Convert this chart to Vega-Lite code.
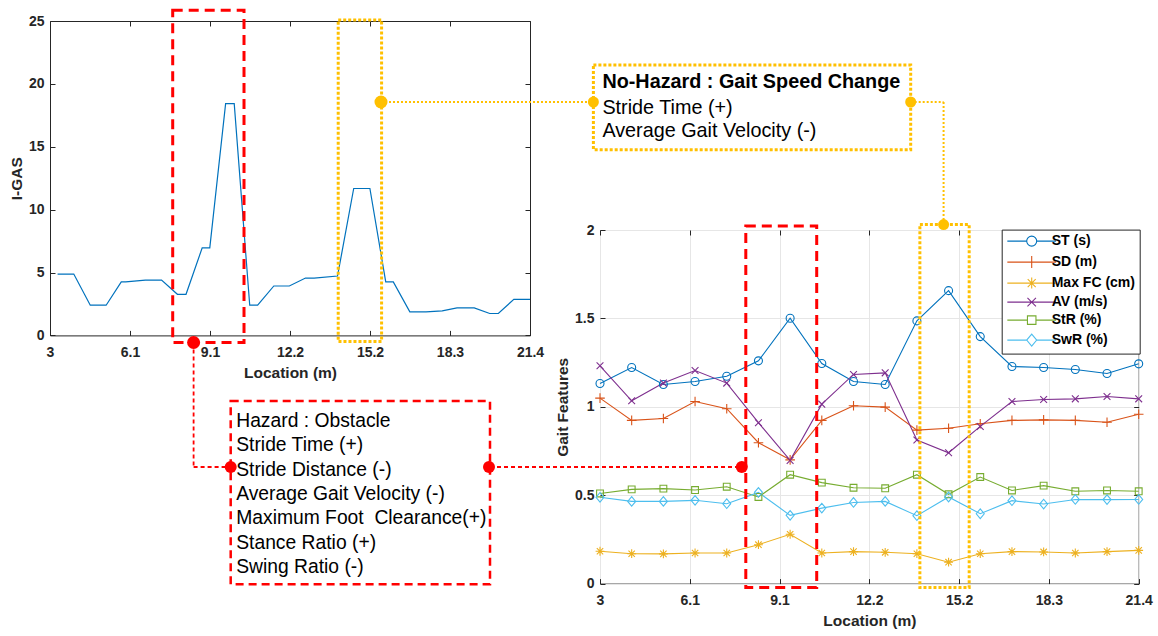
{
  "$schema": "https://vega.github.io/schema/vega-lite/v6.json",
  "padding": 0,
  "background": "white",
  "autosize": {"type": "pad"},
  "datasets": {
    "igas": [
      {"loc": 3.29, "igas": 4.88}, {"loc": 3.911, "igas": 4.88}, {"loc": 4.544, "igas": 2.4}, {"loc": 5.152, "igas": 2.4},
      {"loc": 5.732, "igas": 4.25}, {"loc": 5.9, "igas": 4.25}, {"loc": 6.656, "igas": 4.4}, {"loc": 7.276, "igas": 4.4},
      {"loc": 7.884, "igas": 3.27}, {"loc": 8.214, "igas": 3.27}, {"loc": 8.834, "igas": 6.96}, {"loc": 9.125, "igas": 6.96},
      {"loc": 9.732, "igas": 18.43}, {"loc": 10.062, "igas": 18.43}, {"loc": 10.656, "igas": 2.4}, {"loc": 10.96, "igas": 2.4},
      {"loc": 11.58, "igas": 3.93}, {"loc": 12.174, "igas": 3.93}, {"loc": 12.794, "igas": 4.56}, {"loc": 13.124, "igas": 4.56},
      {"loc": 14.022, "igas": 4.72}, {"loc": 14.642, "igas": 11.68}, {"loc": 15.263, "igas": 11.68}, {"loc": 15.87, "igas": 4.25},
      {"loc": 16.16, "igas": 4.25}, {"loc": 16.794, "igas": 1.87}, {"loc": 17.414, "igas": 1.87}, {"loc": 18.035, "igas": 1.95},
      {"loc": 18.602, "igas": 2.19}, {"loc": 19.262, "igas": 2.19}, {"loc": 19.856, "igas": 1.74}, {"loc": 20.186, "igas": 1.74},
      {"loc": 20.78, "igas": 2.87}, {"loc": 21.4, "igas": 2.87}
    ],
    "gait": [
      {"loc": 3, "ST (s)": 1.132, "SD (m)": 1.049, "Max FC (cm)": 0.183, "AV (m/s)": 1.232, "StR (%)": 0.51, "SwR (%)": 0.488},
      {"loc": 4.082, "ST (s)": 1.222, "SD (m)": 0.923, "Max FC (cm)": 0.169, "AV (m/s)": 1.034, "StR (%)": 0.533, "SwR (%)": 0.465},
      {"loc": 5.165, "ST (s)": 1.126, "SD (m)": 0.934, "Max FC (cm)": 0.168, "AV (m/s)": 1.134, "StR (%)": 0.537, "SwR (%)": 0.465},
      {"loc": 6.247, "ST (s)": 1.143, "SD (m)": 1.03, "Max FC (cm)": 0.173, "AV (m/s)": 1.205, "StR (%)": 0.529, "SwR (%)": 0.471},
      {"loc": 7.329, "ST (s)": 1.173, "SD (m)": 0.989, "Max FC (cm)": 0.173, "AV (m/s)": 1.134, "StR (%)": 0.548, "SwR (%)": 0.452},
      {"loc": 8.412, "ST (s)": 1.26, "SD (m)": 0.797, "Max FC (cm)": 0.22, "AV (m/s)": 0.91, "StR (%)": 0.49, "SwR (%)": 0.516},
      {"loc": 9.494, "ST (s)": 1.501, "SD (m)": 0.7, "Max FC (cm)": 0.279, "AV (m/s)": 0.697, "StR (%)": 0.616, "SwR (%)": 0.386},
      {"loc": 10.576, "ST (s)": 1.245, "SD (m)": 0.923, "Max FC (cm)": 0.173, "AV (m/s)": 1.015, "StR (%)": 0.571, "SwR (%)": 0.427},
      {"loc": 11.659, "ST (s)": 1.143, "SD (m)": 1.006, "Max FC (cm)": 0.181, "AV (m/s)": 1.183, "StR (%)": 0.542, "SwR (%)": 0.459},
      {"loc": 12.741, "ST (s)": 1.126, "SD (m)": 0.998, "Max FC (cm)": 0.177, "AV (m/s)": 1.192, "StR (%)": 0.539, "SwR (%)": 0.465},
      {"loc": 13.824, "ST (s)": 1.486, "SD (m)": 0.868, "Max FC (cm)": 0.169, "AV (m/s)": 0.812, "StR (%)": 0.616, "SwR (%)": 0.384},
      {"loc": 14.906, "ST (s)": 1.657, "SD (m)": 0.879, "Max FC (cm)": 0.121, "AV (m/s)": 0.74, "StR (%)": 0.505, "SwR (%)": 0.49},
      {"loc": 15.988, "ST (s)": 1.397, "SD (m)": 0.904, "Max FC (cm)": 0.169, "AV (m/s)": 0.889, "StR (%)": 0.603, "SwR (%)": 0.395},
      {"loc": 17.071, "ST (s)": 1.228, "SD (m)": 0.923, "Max FC (cm)": 0.181, "AV (m/s)": 1.03, "StR (%)": 0.527, "SwR (%)": 0.469},
      {"loc": 18.153, "ST (s)": 1.222, "SD (m)": 0.926, "Max FC (cm)": 0.179, "AV (m/s)": 1.041, "StR (%)": 0.554, "SwR (%)": 0.45},
      {"loc": 19.235, "ST (s)": 1.211, "SD (m)": 0.923, "Max FC (cm)": 0.173, "AV (m/s)": 1.045, "StR (%)": 0.522, "SwR (%)": 0.476},
      {"loc": 20.318, "ST (s)": 1.188, "SD (m)": 0.913, "Max FC (cm)": 0.181, "AV (m/s)": 1.058, "StR (%)": 0.527, "SwR (%)": 0.475},
      {"loc": 21.4, "ST (s)": 1.243, "SD (m)": 0.958, "Max FC (cm)": 0.188, "AV (m/s)": 1.045, "StR (%)": 0.522, "SwR (%)": 0.476}
    ]
  },
  "config": {
    "font": "Liberation Sans",
    "view": {"stroke": "#262626", "strokeWidth": 1},
    "axis": {
      "labelFont": "Liberation Sans", "labelFontSize": 14, "labelFontWeight": "bold", "labelColor": "#262626",
      "titleFont": "Liberation Sans", "titleFontSize": 15.5, "titleFontWeight": "bold", "titleColor": "#262626",
      "domain": false, "tickColor": "#262626", "tickSize": -5, "tickWidth": 1,
      "gridColor": "#e6e6e6", "gridWidth": 1, "labelFlush": false, "labelOverlap": false
    },
    "axisX": {"labelPadding": 15, "titlePadding": 6},
    "axisY": {"labelPadding": 11, "titlePadding": 4}
  },
  "spacing": 70,
  "bounds": "flush",
  "hconcat": [
    {
      "width": 480,
      "height": 314.4,
      "layer": [
        {
          "data": {"values": [{}]},
          "mark": {"type": "rect", "fill": "white", "fillOpacity": 0, "strokeOpacity": 0, "clip": false},
          "encoding": {
            "x": {"datum": 1.1102, "type": "quantitative", "scale": {"domain": [3, 21.4], "nice": false, "zero": false},
                  "axis": {"orient": "top", "labels": false, "grid": false, "title": null, "values": [3, 6.06667, 9.13333, 12.2, 15.26667, 18.33333, 21.4]}},
            "x2": {"datum": 45.5},
            "y": {"datum": 26.591, "type": "quantitative", "scale": {"domain": [0, 25], "nice": false, "zero": false},
                  "axis": {"orient": "right", "labels": false, "grid": false, "title": null, "values": [0, 5, 10, 15, 20, 25]}},
            "y2": {"datum": -23.982}
          }
        },
        {
          "data": {"name": "igas"},
          "mark": {"type": "line", "color": "#0072BD", "strokeWidth": 1.2},
          "encoding": {
            "x": {"field": "loc", "type": "quantitative", "scale": {"domain": [3, 21.4], "nice": false, "zero": false},
                  "axis": {"orient": "bottom", "title": "Location (m)", "values": [3, 6.06667, 9.13333, 12.2, 15.26667, 18.33333, 21.4],
                           "labelExpr": "['3','6.1','9.1','12.2','15.2','18.3','21.4'][round((datum.value-3)/3.06667)]"}},
            "y": {"field": "igas", "type": "quantitative", "scale": {"domain": [0, 25], "nice": false, "zero": false},
                  "axis": {"orient": "left", "title": "I-GAS", "values": [0, 5, 10, 15, 20, 25]}}
          }
        },
        {
          "data": {"values": [{}]},
          "mark": {"type": "rect", "fill": "transparent", "stroke": "#FF0000", "strokeWidth": 3, "strokeDash": [10, 6], "clip": false},
          "encoding": {
            "x": {"datum": 7.7035, "type": "quantitative", "axis": null}, "x2": {"datum": 10.437},
            "y": {"datum": 25.851, "type": "quantitative", "axis": null}, "y2": {"datum": -0.5646}
          }
        },
        {
          "data": {"values": [{}]},
          "mark": {"type": "rect", "fill": "transparent", "stroke": "#FFC000", "strokeWidth": 3, "strokeDash": [3, 2], "clip": false},
          "encoding": {
            "x": {"datum": 14.048, "type": "quantitative", "axis": null}, "x2": {"datum": 15.711},
            "y": {"datum": 25.08, "type": "quantitative", "axis": null}, "y2": {"datum": -0.485}
          }
        },
        {
          "data": {"values": [{}]},
          "mark": {"type": "rule", "color": "#FF0000", "strokeWidth": 1.8, "strokeDash": [4, 3], "clip": false},
          "encoding": {
            "x": {"datum": 8.5047, "type": "quantitative", "axis": null},
            "y": {"datum": -0.5646, "type": "quantitative", "axis": null}, "y2": {"datum": -10.464}
          }
        },
        {
          "data": {"values": [{}]},
          "mark": {"type": "rule", "color": "#FF0000", "strokeWidth": 1.8, "strokeDash": [4, 3], "clip": false},
          "encoding": {
            "x": {"datum": 8.5047, "type": "quantitative", "axis": null}, "x2": {"datum": 9.9268},
            "y": {"datum": -10.464, "type": "quantitative", "axis": null}
          }
        },
        {
          "data": {"values": [{}]},
          "mark": {"type": "rule", "color": "#FF0000", "strokeWidth": 1.8, "strokeDash": [4, 3], "clip": false},
          "encoding": {
            "x": {"datum": 19.8667, "type": "quantitative", "axis": null}, "x2": {"datum": 29.519},
            "y": {"datum": -10.464, "type": "quantitative", "axis": null}
          }
        },
        {
          "data": {"values": [{}]},
          "mark": {"type": "rect", "fill": "transparent", "stroke": "#FF0000", "strokeWidth": 2.5, "strokeDash": [8, 5], "clip": false},
          "encoding": {
            "x": {"datum": 9.9268, "type": "quantitative", "axis": null}, "x2": {"datum": 19.8667},
            "y": {"datum": -5.216, "type": "quantitative", "axis": null}, "y2": {"datum": -19.792}
          }
        },
        {
          "data": {"values": [{}]},
          "mark": {"type": "rule", "color": "#FFC000", "strokeWidth": 2, "strokeDash": [2, 2], "clip": false},
          "encoding": {
            "x": {"datum": 15.688, "type": "quantitative", "axis": null}, "x2": {"datum": 23.83},
            "y": {"datum": 18.559, "type": "quantitative", "axis": null}
          }
        },
        {
          "data": {"values": [{}]},
          "mark": {"type": "rule", "color": "#FFC000", "strokeWidth": 2, "strokeDash": [2, 2], "clip": false},
          "encoding": {
            "x": {"datum": 35.993, "type": "quantitative", "axis": null}, "x2": {"datum": 37.254},
            "y": {"datum": 18.559, "type": "quantitative", "axis": null}
          }
        },
        {
          "data": {"values": [{}]},
          "mark": {"type": "rule", "color": "#FFC000", "strokeWidth": 2, "strokeDash": [2, 2], "clip": false},
          "encoding": {
            "x": {"datum": 37.254, "type": "quantitative", "axis": null},
            "y": {"datum": 18.559, "type": "quantitative", "axis": null}, "y2": {"datum": 8.834}
          }
        },
        {
          "data": {"values": [{}]},
          "mark": {"type": "rect", "fill": "transparent", "stroke": "#FFC000", "strokeWidth": 3, "strokeDash": [3, 2], "clip": false},
          "encoding": {
            "x": {"datum": 23.83, "type": "quantitative", "axis": null}, "x2": {"datum": 35.993},
            "y": {"datum": 21.501, "type": "quantitative", "axis": null}, "y2": {"datum": 14.766}
          }
        },
        {
          "data": {"values": [{}]},
          "mark": {"type": "text", "align": "left", "baseline": "alphabetic", "font": "Liberation Sans", "fontSize": 19.3, "lineHeight": 24.3, "color": "black", "clip": false},
          "encoding": {
            "x": {"datum": 10.138, "type": "quantitative", "axis": null},
            "y": {"datum": -7.284, "type": "quantitative", "axis": null},
            "text": {"value": ["Hazard : Obstacle", "Stride Time (+)", "Stride Distance (-)", "Average Gait Velocity (-)", "Maximum Foot\u00a0 Clearance(+)", "Stance Ratio (+)", "Swing Ratio (-)"]}
          }
        },
        {
          "data": {"values": [{}]},
          "mark": {"type": "text", "align": "left", "baseline": "alphabetic", "font": "Liberation Sans", "fontSize": 19.8, "fontWeight": "bold", "color": "black", "clip": false},
          "encoding": {
            "x": {"datum": 24.175, "type": "quantitative", "axis": null},
            "y": {"datum": 19.633, "type": "quantitative", "axis": null},
            "text": {"value": "No-Hazard : Gait Speed Change"}
          }
        },
        {
          "data": {"values": [{}]},
          "mark": {"type": "text", "align": "left", "baseline": "alphabetic", "font": "Liberation Sans", "fontSize": 19.8, "lineHeight": 23.5, "color": "black", "clip": false},
          "encoding": {
            "x": {"datum": 24.175, "type": "quantitative", "axis": null},
            "y": {"datum": 17.629, "type": "quantitative", "axis": null},
            "text": {"value": ["Stride Time (+)", "Average Gait Velocity (-)"]}
          }
        },
        {
          "data": {"values": [{}]},
          "mark": {"type": "point", "shape": "circle", "filled": true, "color": "#FF0000", "size": 169, "opacity": 1, "clip": false},
          "encoding": {"x": {"datum": 8.5047, "type": "quantitative", "axis": null}, "y": {"datum": -0.5646, "type": "quantitative", "axis": null}}
        },
        {
          "data": {"values": [{}]},
          "mark": {"type": "point", "shape": "circle", "filled": true, "color": "#FF0000", "size": 144, "opacity": 1, "clip": false},
          "encoding": {"x": {"datum": 9.9268, "type": "quantitative", "axis": null}, "y": {"datum": -10.464, "type": "quantitative", "axis": null}}
        },
        {
          "data": {"values": [{}]},
          "mark": {"type": "point", "shape": "circle", "filled": true, "color": "#FF0000", "size": 144, "opacity": 1, "clip": false},
          "encoding": {"x": {"datum": 19.828, "type": "quantitative", "axis": null}, "y": {"datum": -10.464, "type": "quantitative", "axis": null}}
        },
        {
          "data": {"values": [{}]},
          "mark": {"type": "point", "shape": "circle", "filled": true, "color": "#FFC000", "size": 169, "opacity": 1, "clip": false},
          "encoding": {"x": {"datum": 15.688, "type": "quantitative", "axis": null}, "y": {"datum": 18.559, "type": "quantitative", "axis": null}}
        },
        {
          "data": {"values": [{}]},
          "mark": {"type": "point", "shape": "circle", "filled": true, "color": "#FFC000", "size": 121, "opacity": 1, "clip": false},
          "encoding": {"x": {"datum": 23.83, "type": "quantitative", "axis": null}, "y": {"datum": 18.559, "type": "quantitative", "axis": null}}
        },
        {
          "data": {"values": [{}]},
          "mark": {"type": "point", "shape": "circle", "filled": true, "color": "#FFC000", "size": 121, "opacity": 1, "clip": false},
          "encoding": {"x": {"datum": 35.993, "type": "quantitative", "axis": null}, "y": {"datum": 18.559, "type": "quantitative", "axis": null}}
        }
      ]
    },
    {
      "spacing": 0,
      "bounds": "flush",
      "vconcat": [
        {
          "width": 538.7,
          "height": 208.7,
          "view": {"stroke": null},
          "data": {"values": [{}]},
          "mark": {"type": "text"},
          "encoding": {"text": {"value": ""}}
        },
        {
          "width": 538.7,
          "height": 353.6,
          "resolve": {"scale": {"color": "independent", "shape": "independent"}},
          "layer": [
            {
              "data": {"name": "gait"},
              "transform": [{"fold": ["ST (s)", "SD (m)", "Max FC (cm)", "AV (m/s)", "StR (%)", "SwR (%)"], "as": ["series", "value"]}],
              "mark": {"type": "line", "strokeWidth": 1.1},
              "encoding": {
                "x": {"field": "loc", "type": "quantitative", "scale": {"domain": [3, 21.4], "nice": false, "zero": false},
                      "axis": {"orient": "bottom", "title": "Location (m)", "values": [3, 6.06667, 9.13333, 12.2, 15.26667, 18.33333, 21.4],
                               "labelExpr": "['3','6.1','9.1','12.2','15.2','18.3','21.4'][round((datum.value-3)/3.06667)]"}},
                "y": {"field": "value", "type": "quantitative", "scale": {"domain": [0, 2], "nice": false, "zero": false},
                      "axis": {"orient": "left", "title": "Gait Features", "values": [0, 0.5, 1, 1.5, 2], "format": ".2~f"}},
                "color": {"field": "series", "type": "nominal",
                          "scale": {"domain": ["ST (s)", "SD (m)", "Max FC (cm)", "AV (m/s)", "StR (%)", "SwR (%)"], "range": ["#0072BD", "#D95319", "#EDB120", "#7E2F8E", "#77AC30", "#4DBEEE"]},
                          "legend": null}
              }
            },
            {
              "data": {"name": "gait"},
              "transform": [{"fold": ["ST (s)", "SD (m)", "Max FC (cm)", "AV (m/s)", "StR (%)", "SwR (%)"], "as": ["series", "value"]}],
              "mark": {"type": "point", "filled": false, "size": 64, "strokeWidth": 1.1, "opacity": 1},
              "encoding": {
                "x": {"field": "loc", "type": "quantitative", "axis": null},
                "y": {"field": "value", "type": "quantitative", "axis": null},
                "color": {"field": "series", "type": "nominal",
                          "scale": {"domain": ["ST (s)", "SD (m)", "Max FC (cm)", "AV (m/s)", "StR (%)", "SwR (%)"], "range": ["#0072BD", "#D95319", "#EDB120", "#7E2F8E", "#77AC30", "#4DBEEE"]},
                          "legend": null},
                "shape": {"field": "series", "type": "nominal",
                          "scale": {"domain": ["ST (s)", "SD (m)", "Max FC (cm)", "AV (m/s)", "StR (%)", "SwR (%)"],
                                    "range": ["circle", "M-1.2,0H1.2M0,-1.2V1.2", "M-1.1,0H1.1M0,-1.1V1.1M-0.8,-0.8L0.8,0.8M-0.8,0.8L0.8,-0.8", "M-0.85,-0.85L0.85,0.85M-0.85,0.85L0.85,-0.85", "M-0.85,-0.85H0.85V0.85H-0.85Z", "M0,-1.2L1,0L0,1.2L-1,0Z"]},
                          "legend": null}
              }
            },
            {
              "data": {"name": "gait"},
              "transform": [{"fold": ["ST (s)", "SD (m)", "Max FC (cm)", "AV (m/s)", "StR (%)", "SwR (%)"], "as": ["series", "value"]}, {"filter": "false"}],
              "mark": {"type": "point", "filled": false, "size": 64, "strokeWidth": 1.1, "opacity": 1},
              "encoding": {
                "x": {"field": "loc", "type": "quantitative", "axis": null},
                "y": {"field": "value", "type": "quantitative", "axis": null},
                "color": {"field": "series", "type": "nominal",
                          "scale": {"domain": ["ST (s)", "SD (m)", "Max FC (cm)", "AV (m/s)", "StR (%)", "SwR (%)"], "range": ["#0072BD", "#D95319", "#EDB120", "#7E2F8E", "#77AC30", "#4DBEEE"]},
                          "legend": {"orient": "none", "legendX": 401.7, "legendY": -0.4, "title": null, "fillColor": "white", "strokeColor": "#262626",
                                     "padding": 4.5, "rowPadding": 4.0, "labelFont": "Liberation Sans", "labelFontSize": 14, "labelFontWeight": "bold",
                                     "labelColor": "black", "labelAlign": "left", "symbolOffset": 0, "labelOffset": 31.5, "symbolStrokeWidth": 1.1, "labelLimit": 300}},
                "shape": {"field": "series", "type": "nominal",
                          "scale": {"domain": ["ST (s)", "SD (m)", "Max FC (cm)", "AV (m/s)", "StR (%)", "SwR (%)"],
                                    "range": ["M-1.175,0H2.7M4.7,0H8.575M4.7,0A1 1 0 1 1 2.7,0A1 1 0 1 1 4.7,0", "M-1.175,0H8.575M3.7,-1.2V1.2", "M-1.175,0H8.575M3.7,-1.1V1.1M2.9,-0.8L4.5,0.8M2.9,0.8L4.5,-0.8", "M-1.175,0H8.575M2.85,-0.85L4.55,0.85M2.85,0.85L4.55,-0.85", "M-1.175,0H2.85M4.55,0H8.575M2.85,-0.85H4.55V0.85H2.85Z", "M-1.175,0H2.7M4.7,0H8.575M3.7,-1.2L4.7,0L3.7,1.2L2.7,0Z"]},
                          "legend": {"orient": "none", "legendX": 401.7, "legendY": -0.4, "title": null, "fillColor": "white", "strokeColor": "#262626",
                                     "padding": 4.5, "rowPadding": 4.0, "labelFont": "Liberation Sans", "labelFontSize": 14, "labelFontWeight": "bold",
                                     "labelColor": "black", "labelAlign": "left", "symbolOffset": 0, "labelOffset": 31.5, "symbolStrokeWidth": 1.1, "labelLimit": 300}}
              }
            },
            {
              "data": {"values": [{}]},
              "mark": {"type": "rect", "fill": "transparent", "stroke": "#FF0000", "strokeWidth": 3, "strokeDash": [10, 6], "clip": false},
              "encoding": {
                "x": {"datum": 7.98, "type": "quantitative",
                      "axis": {"orient": "top", "labels": false, "grid": false, "title": null, "values": [3, 6.06667, 9.13333, 12.2, 15.26667, 18.33333, 21.4]}},
                "x2": {"datum": 10.402},
                "y": {"datum": 2.0226, "type": "quantitative",
                      "axis": {"orient": "right", "labels": false, "grid": false, "title": null, "values": [0, 0.5, 1, 1.5, 2]}},
                "y2": {"datum": -0.0226}
              }
            },
            {
              "data": {"values": [{}]},
              "mark": {"type": "rect", "fill": "transparent", "stroke": "#FFC000", "strokeWidth": 3, "strokeDash": [3, 2], "clip": false},
              "encoding": {
                "x": {"datum": 13.926, "type": "quantitative", "axis": null}, "x2": {"datum": 15.61},
                "y": {"datum": 2.0305, "type": "quantitative", "axis": null}, "y2": {"datum": -0.0226}
              }
            },
            {
              "data": {"values": [{}]},
              "mark": {"type": "point", "shape": "circle", "filled": true, "color": "#FF0000", "size": 144, "opacity": 1, "clip": false},
              "encoding": {"x": {"datum": 7.843, "type": "quantitative", "axis": null}, "y": {"datum": 0.6595, "type": "quantitative", "axis": null}}
            },
            {
              "data": {"values": [{}]},
              "mark": {"type": "point", "shape": "circle", "filled": true, "color": "#FFC000", "size": 121, "opacity": 1, "clip": false},
              "encoding": {"x": {"datum": 14.736, "type": "quantitative", "axis": null}, "y": {"datum": 2.0305, "type": "quantitative", "axis": null}}
            }
          ]
        }
      ]
    }
  ]
}
